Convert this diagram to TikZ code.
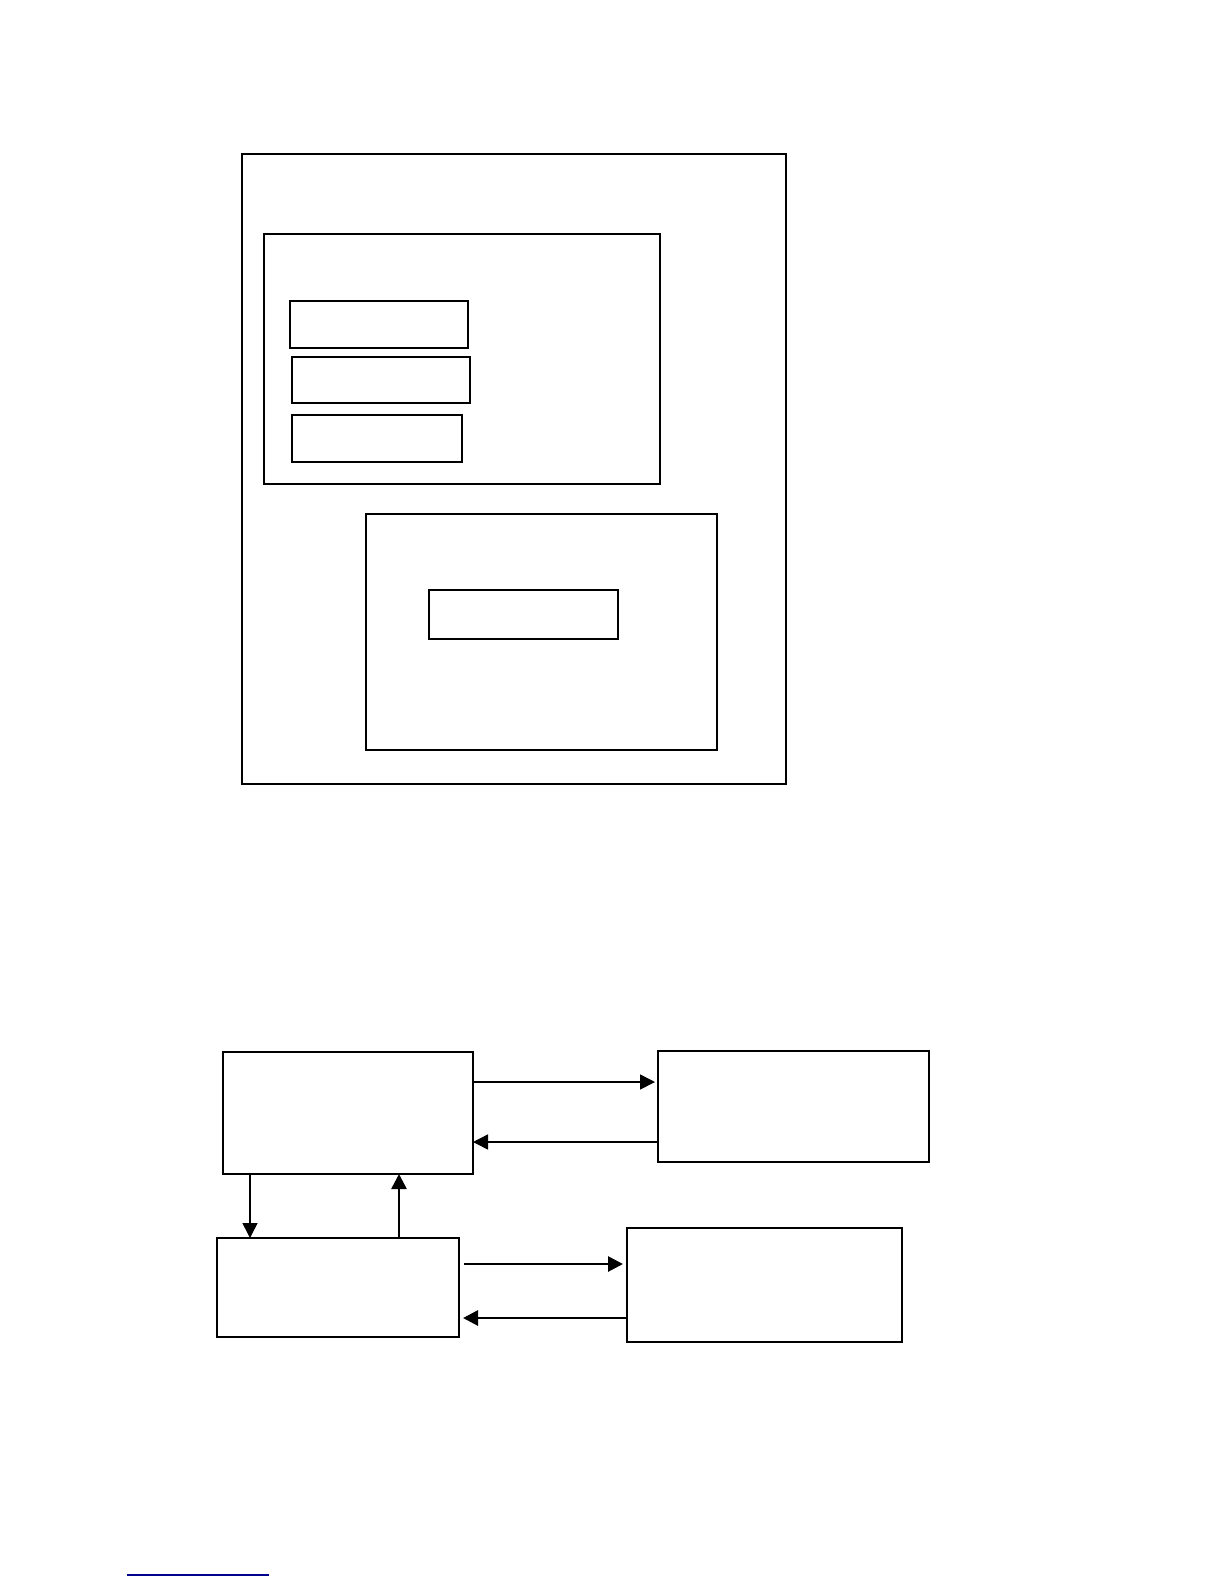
\documentclass[tikz,border=0pt]{standalone}
\usetikzlibrary{arrows.meta}
\begin{document}
\begin{tikzpicture}[x=1pt,y=-1pt,
  box/.style={draw=black, line width=#1, inner sep=0pt, outer sep=0pt, anchor=north west, fill=none},
  box/.default=2pt,
  conn/.style={line width=#1, -{Triangle[length=15pt,width=15pt]}},
  conn/.default=1.5pt]
\useasboundingbox (0,0) rectangle (1224,1584);
% upper group
\node[box=1.8pt, minimum width=544pt, minimum height=630pt] (outer) at (242,154) {};
\node[box=2.6pt, minimum width=396pt, minimum height=250pt] (inA) at (264,234) {};
\node[box=2.5pt, minimum width=178pt, minimum height=47pt] (s1) at (290,301) {};
\node[box=2.2pt, minimum width=178pt, minimum height=46pt] (s2) at (292,357) {};
\node[box=2.5pt, minimum width=170pt, minimum height=47pt] (s3) at (292,415) {};
\node[box=2.5pt, minimum width=351pt, minimum height=236pt] (inB) at (366,514) {};
\node[box=2.5pt, minimum width=189pt, minimum height=49pt] (s4) at (429,590) {};
% lower group
\node[box=1.8pt, minimum width=250pt, minimum height=122pt] (A) at (223,1052) {};
\node[box=2.2pt, minimum width=271pt, minimum height=111pt] (B) at (658,1051) {};
\node[box=1.8pt, minimum width=242pt, minimum height=99pt] (C) at (217,1238) {};
\node[box=2.5pt, minimum width=275pt, minimum height=114pt] (D) at (627,1228) {};
% connectors
\draw[conn, shorten >=3pt] (A.east |- 0,1082) -- (B.west |- 0,1082);
\draw[conn] (B.west |- 0,1142) -- (A.east |- 0,1142);
\draw[conn] (A.south -| 250,0) -- (C.north -| 250,0);
\draw[conn=2.6pt] (C.north -| 399,0) -- (A.south -| 399,0);
\draw[conn=2.8pt, shorten <=5pt, shorten >=4pt] (C.east |- 0,1264) -- (D.west |- 0,1264);
\draw[conn=2.8pt, shorten >=4pt] (D.west |- 0,1318) -- (C.east |- 0,1318);
% footnote rule
\coordinate (f1) at (127,1575);
\coordinate (f2) at (269,1575);
\draw[line width=1.5pt, draw={rgb,255:red,0;green,0;blue,140}] (f1) -- (f2);
\end{tikzpicture}
\end{document}
